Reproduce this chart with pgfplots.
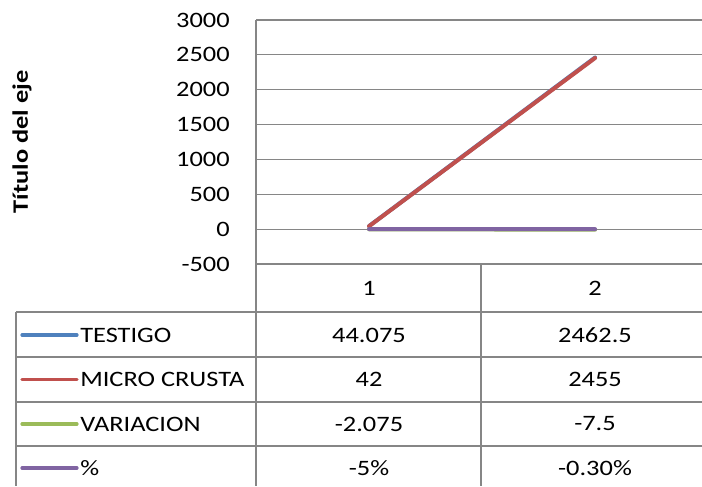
\documentclass[border=0pt]{standalone}
\usepackage{fontspec}
\setmainfont{Carlito}[FakeStretch=1.2]
\usepackage{pgfplots}
\pgfplotsset{compat=1.18}
\definecolor{sblue}{HTML}{4F81BD}
\definecolor{sred}{HTML}{C0504D}
\definecolor{sgreen}{HTML}{9BBB59}
\definecolor{spurple}{HTML}{8064A2}
\definecolor{gridgray}{HTML}{868686}
\begin{document}
\fontsize{16.5}{19}\selectfont
\begin{tikzpicture}[x=0.75pt,y=0.75pt]
\useasboundingbox (0,0) rectangle (702,486);
\clip (0,0) rectangle (702,486);
\coordinate (A) at (256,222);
\begin{axis}[
    at={(A)}, anchor=south west,
    scale only axis,
    width=334.5pt, height=183pt,
    xmin=0.5, xmax=2.473,
    ymin=-500, ymax=3000,
    ytick={-500,0,500,1000,1500,2000,2500,3000},
    xtick=\empty,
    ymajorgrids,
    grid style={gridgray, line width=0.9pt},
    axis line style={draw=none},
    major tick length=0pt,
    scaled y ticks=false,
    /pgf/number format/1000 sep={},
    /pgf/number format/assume math mode=true,
    yticklabel style={font=\fontsize{16.5}{19}\selectfont, xshift=-14pt},
    clip=false,
]
\addplot[sblue, line width=3pt, line cap=round] coordinates {(1,44.075) (2,2462.5)};
\addplot[sred, line width=3pt, line cap=round] coordinates {(1,42) (2,2455)};
\addplot[sgreen, line width=3pt, line cap=round] coordinates {(1,-2.075) (2,-7.5)};
\addplot[spurple, line width=3pt, line cap=round] coordinates {(1,-0.05) (2,-0.003)};
\end{axis}
% y axis title
\node[rotate=90, font=\bfseries] at (22,344) {Título del eje};
% table lines
\draw[gridgray, line width=0.9pt] (256,466) -- (256,0);
\draw[gridgray, line width=0.9pt] (481,222) -- (481,0);
\draw[gridgray, line width=0.9pt] (16,174) -- (16,0);
\foreach \yy in {174,129,84,40} \draw[gridgray, line width=0.9pt] (16,\yy) -- (702,\yy);
% header
\node at (369,198) {1};
\node at (595,198) {2};
% rows
\draw[sblue, line width=2.4pt, line cap=round] (22,151) -- (77,151);
\node[anchor=west, inner sep=0pt] at (80,151) {TESTIGO};
\node at (369,151) {44.075};
\node at (595,151) {2462.5};
\draw[sred, line width=2.4pt, line cap=round] (22,106.5) -- (77,106.5);
\node[anchor=west, inner sep=0pt] at (80,106.5) {MICRO CRUSTA};
\node at (369,106.5) {42};
\node at (595,106.5) {2455};
\draw[sgreen, line width=2.4pt, line cap=round] (22,62) -- (77,62);
\node[anchor=west, inner sep=0pt] at (80,62) {VARIACION};
\node at (369,62) {-2.075};
\node at (595,62) {-7.5};
\draw[spurple, line width=2.4pt, line cap=round] (22,18) -- (77,18);
\node[anchor=west, inner sep=0pt] at (80,18) {\%};
\node at (369,18) {-5\%};
\node at (595,18) {-0.30\%};
\end{tikzpicture}
\end{document}
